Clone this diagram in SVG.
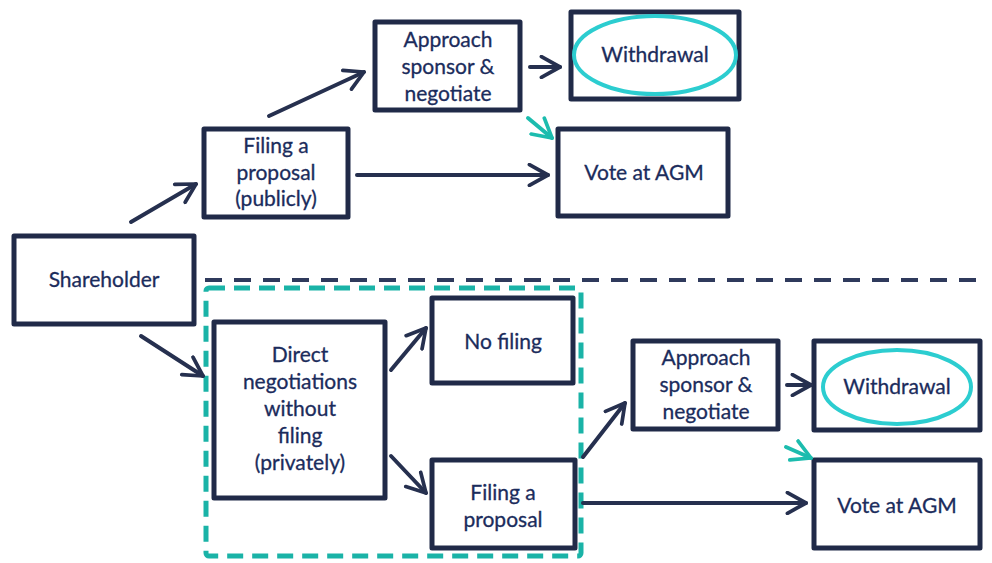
<svg xmlns="http://www.w3.org/2000/svg" width="992" height="563" viewBox="0 0 992 563">
<defs>
<style>
.box{fill:#fff;stroke:#202a48;stroke-width:5;stroke-linejoin:round}
.t{font-family:Lato,"Open Sans",sans-serif;font-size:21px;fill:#1b2c5c;text-anchor:middle;stroke:#1b2c5c;stroke-width:0.3}
.c{fill:none;stroke:#26304f;stroke-width:4;stroke-linecap:round}
.ct{fill:none;stroke:#1cbcae;stroke-width:4;stroke-linecap:round}
.ell{fill:none;stroke:#2ccdd0;stroke-width:4}
</style>
<marker id="ah" viewBox="0 0 12 12" refX="10" refY="6" markerWidth="6.2" markerHeight="6.2" markerUnits="strokeWidth" orient="auto">
<path d="M1,1 L10,6 L1,11" fill="none" stroke="#26304f" stroke-width="1.8" stroke-linecap="round" stroke-linejoin="round"/>
</marker>
<marker id="aht" viewBox="0 0 12 12" refX="10" refY="6" markerWidth="6.2" markerHeight="6.2" markerUnits="strokeWidth" orient="auto">
<path d="M1,1 L10,6 L1,11" fill="none" stroke="#1cbcae" stroke-width="1.8" stroke-linecap="round" stroke-linejoin="round"/>
</marker>
</defs>
<rect width="992" height="563" fill="#fff"/>

<g id="separators">
<line x1="205" y1="280" x2="986" y2="280" stroke="#2f3a5c" stroke-width="4" stroke-dasharray="17,12"/>
<rect x="206" y="288" width="375" height="268" rx="3" fill="none" stroke="#1ab3a7" stroke-width="5" stroke-dasharray="16,9"/>
</g>

<g id="shareholder"><rect class="box" x="14" y="236" width="180" height="88"/><text class="t" x="104" y="287">Shareholder</text></g>

<g id="filing-public"><rect class="box" x="204" y="129" width="144" height="88"/>
<text class="t" x="276" y="153">Filing a</text><text class="t" x="276" y="180">proposal</text><text class="t" x="276" y="206">(publicly)</text></g>

<g id="approach-top"><rect class="box" x="375" y="22" width="145" height="88"/>
<text class="t" x="448" y="47">Approach</text><text class="t" x="448" y="74">sponsor &amp;</text><text class="t" x="448" y="101">negotiate</text></g>

<g id="withdrawal-top"><rect class="box" x="571" y="12" width="168" height="87"/>
<ellipse class="ell" cx="655" cy="55" rx="81" ry="39"/>
<text class="t" x="655" y="62">Withdrawal</text></g>

<g id="vote-top"><rect class="box" x="558" y="129" width="170" height="87"/>
<text class="t" x="644" y="180">Vote at AGM</text></g>

<g id="direct"><rect class="box" x="214" y="322" width="171" height="176"/>
<text class="t" x="300" y="362">Direct</text><text class="t" x="300" y="389">negotiations</text><text class="t" x="300" y="416">without</text><text class="t" x="300" y="443">filing</text><text class="t" x="300" y="470">(privately)</text></g>

<g id="no-filing"><rect class="box" x="432" y="298" width="141" height="85"/>
<text class="t" x="503" y="349">No filing</text></g>

<g id="filing-private"><rect class="box" x="432" y="460" width="143" height="88"/>
<text class="t" x="503" y="500">Filing a</text><text class="t" x="503" y="527">proposal</text></g>

<g id="approach-bottom"><rect class="box" x="633" y="341" width="145" height="88"/>
<text class="t" x="706" y="365">Approach</text><text class="t" x="706" y="392">sponsor &amp;</text><text class="t" x="706" y="419">negotiate</text></g>

<g id="withdrawal-bottom"><rect class="box" x="814" y="341" width="166" height="89"/>
<ellipse class="ell" cx="897" cy="387" rx="74" ry="37"/>
<text class="t" x="897" y="394">Withdrawal</text></g>

<g id="vote-bottom"><rect class="box" x="814" y="460" width="166" height="88"/>
<text class="t" x="897" y="513">Vote at AGM</text></g>

<g id="connectors">
<line class="c" x1="131" y1="222" x2="196" y2="184" marker-end="url(#ah)"/>
<line class="c" x1="141" y1="336" x2="203" y2="376" marker-end="url(#ah)"/>
<line class="c" x1="269" y1="116" x2="364" y2="72" marker-end="url(#ah)"/>
<line class="c" x1="357" y1="175" x2="548" y2="175" marker-end="url(#ah)"/>
<line class="c" x1="530" y1="67" x2="560" y2="67" marker-end="url(#ah)"/>
<line class="ct" x1="528" y1="118" x2="552" y2="138" marker-end="url(#aht)"/>
<line class="c" x1="391" y1="370" x2="426" y2="328" marker-end="url(#ah)"/>
<line class="c" x1="391" y1="456" x2="426" y2="493" marker-end="url(#ah)"/>
<line class="c" x1="583" y1="457" x2="625" y2="403" marker-end="url(#ah)"/>
<line class="c" x1="583" y1="503" x2="806" y2="503" marker-end="url(#ah)"/>
<line class="c" x1="787" y1="385" x2="811" y2="385" marker-end="url(#ah)"/>
<line class="ct" x1="786" y1="447" x2="811" y2="458" marker-end="url(#aht)"/>
</g>
</svg>
